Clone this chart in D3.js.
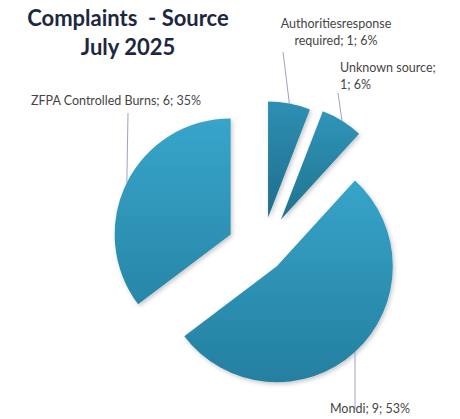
<!DOCTYPE html>
<html>
<head>
<meta charset="utf-8">
<script src="https://cdn.jsdelivr.net/npm/d3@7"></script>
<style>
  body { margin: 0; background: #fff; }
  svg { display: block; }
</style>
</head>
<body>
<div id="chart"></div>
<script>
// data
var categories = ["Authorities response required", "Unknown source", "Mondi", "ZFPA Controlled Burns"];
var counts = [1, 1, 9, 6];
var percents = [6, 6, 53, 35];

// label text lines, as printed
var labelLines = [
  ["Authoritiesresponse", "required; 1; 6%"],
  ["Unknown source;", "1; 6%"],
  ["Mondi; 9; 53%"],
  ["ZFPA Controlled Burns; 6; 35%"]
];

var svgWidth = 460;
var svgHeight = 419;

var center = { x: 262, y: 250 };
var radius = 116;
var explode = [33, 36, 22, 35];
var sliceColors = [
  ["#2e8fb3", "#1f6d8b"],
  ["#3095b9", "#21728f"],
  ["#37a4c9", "#247fa0"],
  ["#37a5ca", "#2886a8"]
];

// label placement: anchor x, first baseline, text-anchor, leader start, vertical leader?
var labelPos = [
  { x: 336, y: 28, anchor: "middle", lx: 283, ly: 52, vertical: false },
  { x: 340, y: 72, anchor: "start", lx: 338, ly: 93, vertical: false },
  { x: 370, y: 413, anchor: "middle", lx: 355, ly: 409, vertical: true },
  { x: 116, y: 105, anchor: "middle", lx: 128, ly: 113, vertical: false }
];

var svg = d3.select("#chart")
  .append("svg")
  .attr("width", svgWidth)
  .attr("height", svgHeight);

var defs = svg.append("defs");

var shadow = defs.append("filter")
  .attr("id", "shadow")
  .attr("x", "-20%").attr("y", "-20%")
  .attr("width", "140%").attr("height", "140%");
shadow.append("feDropShadow")
  .attr("dx", 1.5).attr("dy", 2)
  .attr("stdDeviation", 2)
  .attr("flood-color", "#000")
  .attr("flood-opacity", 0.22);

sliceColors.forEach(function(c, i) {
  var g = defs.append("linearGradient")
    .attr("id", "grad" + i)
    .attr("x1", 0).attr("y1", 0)
    .attr("x2", 0).attr("y2", 1);
  g.append("stop").attr("offset", "0%").attr("stop-color", c[0]);
  g.append("stop").attr("offset", "100%").attr("stop-color", c[1]);
});

// title
var title = svg.append("text")
  .attr("x", 128)
  .attr("y", 26)
  .attr("text-anchor", "middle")
  .attr("font-family", "Lato, 'Open Sans', sans-serif")
  .attr("font-weight", "bold")
  .attr("font-size", 22)
  .attr("fill", "#1d2741");
title.append("tspan").attr("x", 128).attr("xml:space", "preserve").text("Complaints  - Source");
title.append("tspan").attr("x", 128).attr("dy", 29).text("July 2025");

var pieData = categories.map(function(c, i) {
  return { name: c, count: counts[i], pct: percents[i], idx: i };
});

var pie = d3.pie()
  .sort(null)
  .value(d => d.count);

var arc = d3.arc()
  .innerRadius(0)
  .outerRadius(radius);

var edgeArc = d3.arc()
  .innerRadius(radius)
  .outerRadius(radius);

var arcs = pie(pieData);

function sliceOffset(d) {
  var mid = (d.startAngle + d.endAngle) / 2;
  var e = explode[d.data.idx];
  return [center.x + e * Math.sin(mid), center.y - e * Math.cos(mid)];
}

// where the leader meets the slice edge
function leaderEnd(d) {
  var o = sliceOffset(d);
  var p = labelPos[d.data.idx];
  if (p.vertical) {
    var dx = p.lx - o[0];
    var dy = Math.sqrt(radius * radius - dx * dx);
    return [p.lx, p.ly > o[1] ? o[1] + dy : o[1] - dy];
  }
  var c = edgeArc.centroid(d);
  return [o[0] + c[0], o[1] + c[1]];
}

var chartGroup = svg.append("g");

chartGroup.selectAll("path.slice")
  .data(arcs)
  .enter()
  .append("path")
  .attr("class", "slice")
  .attr("transform", d => "translate(" + sliceOffset(d) + ")")
  .attr("d", arc)
  .attr("fill", d => "url(#grad" + d.data.idx + ")")
  .attr("filter", "url(#shadow)");

// leader lines
chartGroup.selectAll("line.leader")
  .data(arcs)
  .enter()
  .append("line")
  .attr("class", "leader")
  .attr("x1", d => labelPos[d.data.idx].lx)
  .attr("y1", d => labelPos[d.data.idx].ly)
  .attr("x2", d => leaderEnd(d)[0])
  .attr("y2", d => leaderEnd(d)[1])
  .attr("stroke", "#9aa3c4")
  .attr("stroke-width", 1);

// labels
var labels = svg.selectAll("text.label")
  .data(arcs)
  .enter()
  .append("text")
  .attr("class", "label")
  .attr("x", d => labelPos[d.data.idx].x)
  .attr("y", d => labelPos[d.data.idx].y)
  .attr("text-anchor", d => labelPos[d.data.idx].anchor)
  .attr("font-family", "Lato, 'Open Sans', sans-serif")
  .attr("font-size", 12.5)
  .attr("fill", "#454545");

labels.each(function(d) {
  var t = d3.select(this);
  var p = labelPos[d.data.idx];
  labelLines[d.data.idx].forEach(function(line, j) {
    t.append("tspan")
      .attr("x", p.x)
      .attr("dy", j === 0 ? 0 : 17)
      .text(line);
  });
});
</script>
</body>
</html>
